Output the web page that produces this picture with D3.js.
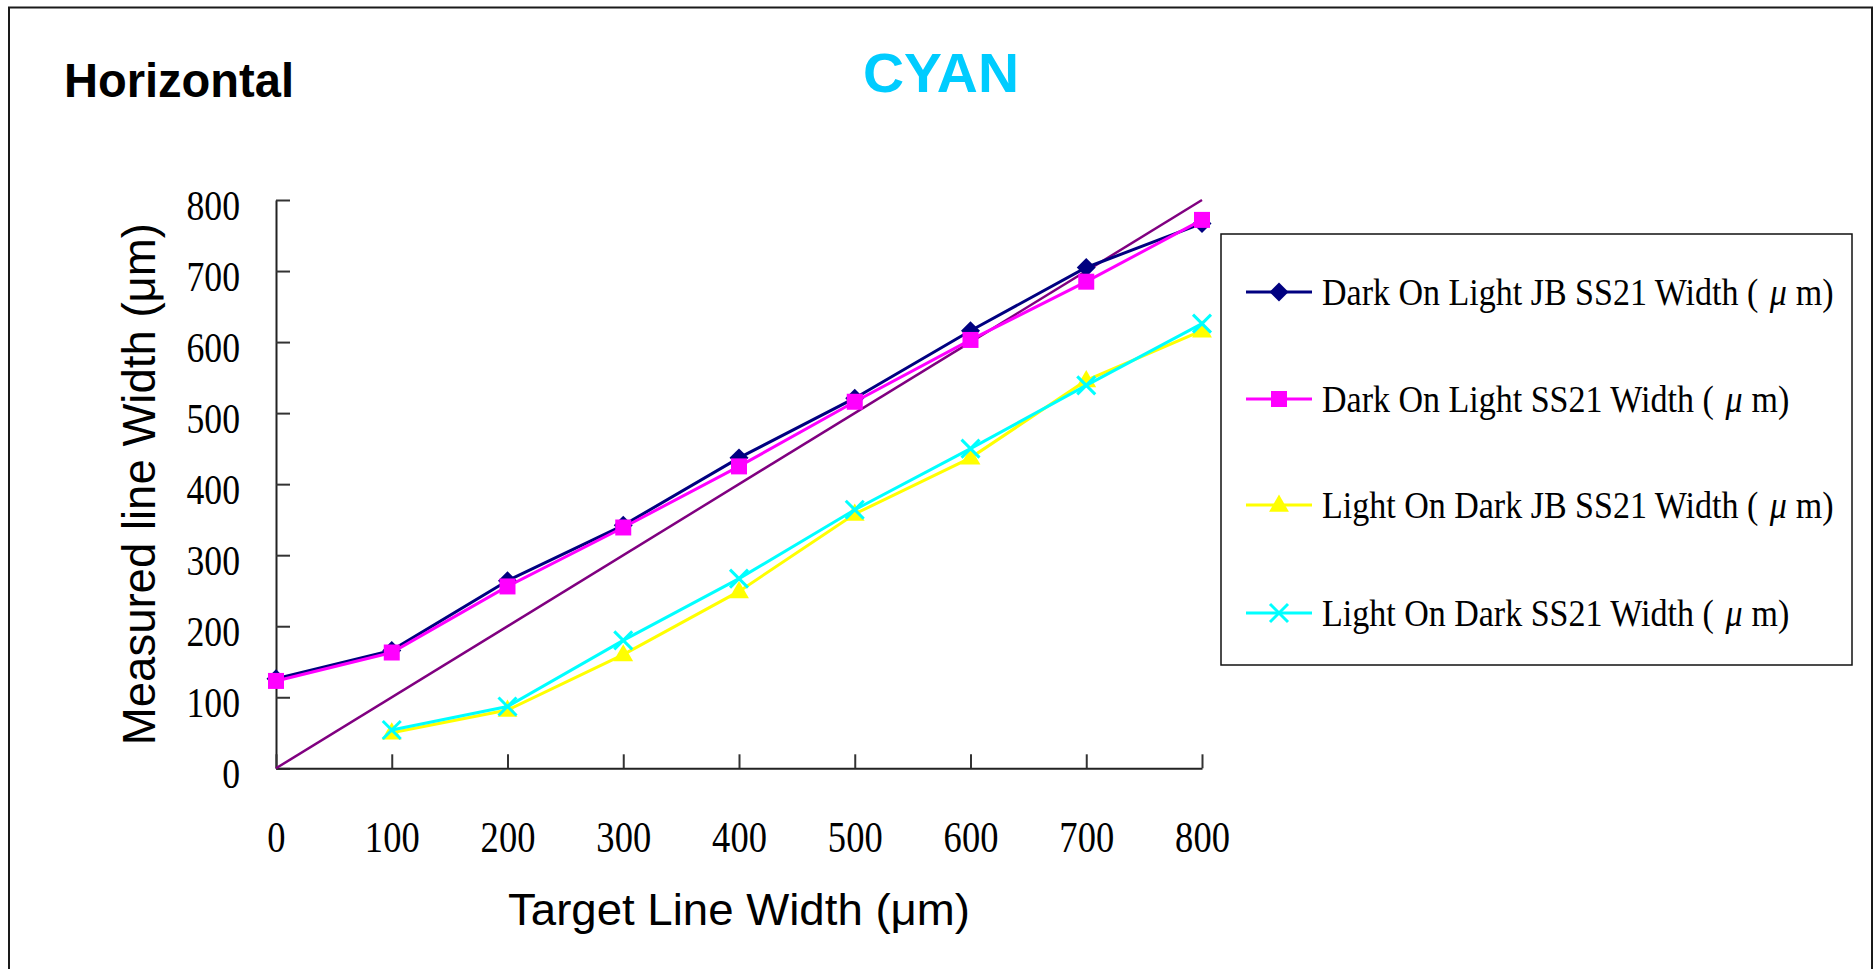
<!DOCTYPE html>
<html>
<head>
<meta charset="utf-8">
<script src="https://cdn.jsdelivr.net/npm/d3@7"></script>
<style>
html,body{margin:0;padding:0;background:#fff;overflow:hidden;}
svg{display:block;}
</style>
</head>
<body>
<svg id="chart" width="1874" height="969"></svg>
<script>
// ---------- data ----------
const targetWidths = [0, 100, 200, 300, 400, 500, 600, 700, 800];
const darkOnLightJB   = [126, 166, 264, 342, 437, 521, 616, 705, 767];
const darkOnLightSS21 = [123, 163, 256, 339, 425, 516, 603, 685, 772];
const lightOnDarkJB   = [null, 50, 82, 160, 249, 358, 437, 546, 616];
const lightOnDarkSS21 = [null, 54, 87, 180, 267, 364, 450, 539, 626];
const referenceX = [0, 800];
const referenceY = [0, 800];
const yTicks = [0, 100, 200, 300, 400, 500, 600, 700, 800];
const xTicks = [0, 100, 200, 300, 400, 500, 600, 700, 800];
const seriesNames = [
  "Dark On Light JB SS21 Width",
  "Dark On Light SS21 Width",
  "Light On Dark JB SS21 Width",
  "Light On Dark SS21 Width"
];
const seriesColors = ["#000080", "#FF00FF", "#FFFF00", "#00FFFF"];
const seriesMarkers = ["diamond", "square", "triangle", "x"];
const seriesValues = [darkOnLightJB, darkOnLightSS21, lightOnDarkJB, lightOnDarkSS21];

// ---------- layout ----------
const svg = d3.select("#chart");
const x = d3.scaleLinear().domain([0, 800]).range([276, 1202]);
const y = d3.scaleLinear().domain([0, 800]).range([768.3, 200]);

// outer frame
svg.append("rect").attr("x", 9).attr("y", 7.5).attr("width", 1863).attr("height", 1000)
  .attr("fill", "#fff").attr("stroke", "#1a1a1a").attr("stroke-width", 2);

// titles
svg.append("text").attr("x", 64).attr("y", 97)
  .attr("font-family", "Liberation Sans, Arial, sans-serif").attr("font-weight", "bold")
  .attr("font-size", 48).attr("textLength", 230).attr("lengthAdjust", "spacingAndGlyphs")
  .attr("fill", "#000").text("Horizontal");
svg.append("text").attr("x", 863).attr("y", 92)
  .attr("font-family", "Liberation Sans, Arial, sans-serif").attr("font-weight", "bold")
  .attr("font-size", 55).attr("textLength", 156).attr("lengthAdjust", "spacingAndGlyphs")
  .attr("fill", "#00CCFF").text("CYAN");

// axes
const sx = 0.83;
const yAxis = svg.append("g").attr("transform", `translate(${x(0)},0)`)
  .call(d3.axisLeft(y).tickValues(yTicks).tickSizeInner(-14).tickSizeOuter(0).tickFormat(d3.format("d")));
yAxis.select(".domain").attr("stroke", "#222").attr("stroke-width", 2);
yAxis.selectAll(".tick line").attr("stroke", "#333").attr("stroke-width", 2);
yAxis.selectAll(".tick text")
  .attr("font-family", "Liberation Serif, 'Times New Roman', serif").attr("font-size", 43)
  .attr("fill", "#000").attr("text-anchor", "end")
  .attr("x", -36 / sx).attr("dy", null).attr("y", 19)
  .attr("transform", `scale(${sx},1)`);

const xAxis = svg.append("g").attr("transform", `translate(0,${y(0)})`)
  .call(d3.axisBottom(x).tickValues(xTicks).tickSizeInner(-14).tickSizeOuter(0).tickFormat(d3.format("d")));
xAxis.select(".domain").attr("stroke", "#222").attr("stroke-width", 2);
xAxis.selectAll(".tick line").attr("stroke", "#333").attr("stroke-width", 2);
xAxis.selectAll(".tick text")
  .attr("font-family", "Liberation Serif, 'Times New Roman', serif").attr("font-size", 44)
  .attr("fill", "#000").attr("text-anchor", "middle")
  .attr("x", 0).attr("dy", null).attr("y", 84)
  .attr("transform", `scale(${sx},1)`);

// axis titles
svg.append("text")
  .attr("transform", `translate(155,${(y(0) + y(800)) / 2}) rotate(-90)`)
  .attr("text-anchor", "middle")
  .attr("font-family", "Liberation Sans, Arial, sans-serif").attr("font-size", 46)
  .attr("textLength", 522).attr("lengthAdjust", "spacingAndGlyphs")
  .attr("fill", "#000").text("Measured line Width (μm)");
svg.append("text")
  .attr("x", (x(0) + x(800)) / 2).attr("y", 925)
  .attr("text-anchor", "middle")
  .attr("font-family", "Liberation Sans, Arial, sans-serif").attr("font-size", 44)
  .attr("textLength", 462).attr("lengthAdjust", "spacingAndGlyphs")
  .attr("fill", "#000").text("Target Line Width (μm)");

// reference (identity) line
const line = d3.line().defined(d => d[1] != null).x(d => x(d[0])).y(d => y(d[1]));
svg.append("path")
  .datum(referenceX.map((v, i) => [v, referenceY[i]]))
  .attr("d", line).attr("fill", "none").attr("stroke", "#800080").attr("stroke-width", 2.5);

// marker drawing
function drawMarker(g, type, color, cx, cy) {
  if (type === "diamond") {
    g.append("path").attr("d", d3.symbol(d3.symbolSquare, 180)())
      .attr("transform", `translate(${cx},${cy}) rotate(45)`).attr("fill", color);
  } else if (type === "square") {
    g.append("path").attr("d", d3.symbol(d3.symbolSquare, 256)())
      .attr("transform", `translate(${cx},${cy})`).attr("fill", color);
  } else if (type === "triangle") {
    g.append("path").attr("d", d3.symbol(d3.symbolTriangle, 170)())
      .attr("transform", `translate(${cx},${cy + 1})`).attr("fill", color);
  } else if (type === "x") {
    const r = 9;
    g.append("path").attr("d", `M${-r},${-r}L${r},${r}M${-r},${r}L${r},${-r}`)
      .attr("transform", `translate(${cx},${cy})`)
      .attr("stroke", color).attr("stroke-width", 3).attr("fill", "none");
  }
}

// series
seriesValues.forEach((vals, si) => {
  const pts = targetWidths.map((t, i) => [t, vals[i]]);
  const g = svg.append("g");
  g.append("path").datum(pts).attr("d", line)
    .attr("fill", "none").attr("stroke", seriesColors[si]).attr("stroke-width", 3);
  pts.filter(p => p[1] != null).forEach(p => drawMarker(g, seriesMarkers[si], seriesColors[si], x(p[0]), y(p[1])));
});

// legend
const legend = svg.append("g");
legend.append("rect").attr("x", 1221).attr("y", 234).attr("width", 631).attr("height", 431)
  .attr("fill", "#fff").attr("stroke", "#111").attr("stroke-width", 1.5);
const legendRowY = [292, 399, 505, 613];
const lsx = 0.895;
seriesNames.forEach((name, i) => {
  const cy = legendRowY[i];
  legend.append("line").attr("x1", 1246).attr("x2", 1312).attr("y1", cy).attr("y2", cy)
    .attr("stroke", seriesColors[i]).attr("stroke-width", 3);
  drawMarker(legend, seriesMarkers[i], seriesColors[i], 1279, cy);
  const t = legend.append("text")
    .attr("transform", `translate(1322,${cy + 13}) scale(${lsx},1)`)
    .attr("font-family", "Liberation Serif, 'Times New Roman', serif").attr("font-size", 38)
    .attr("fill", "#000");
  t.append("tspan").text(name + " (");
  t.append("tspan").attr("dx", 13).attr("font-style", "italic").text("μ");
  t.append("tspan").attr("dx", 10).text("m)");
});
</script>
</body>
</html>
